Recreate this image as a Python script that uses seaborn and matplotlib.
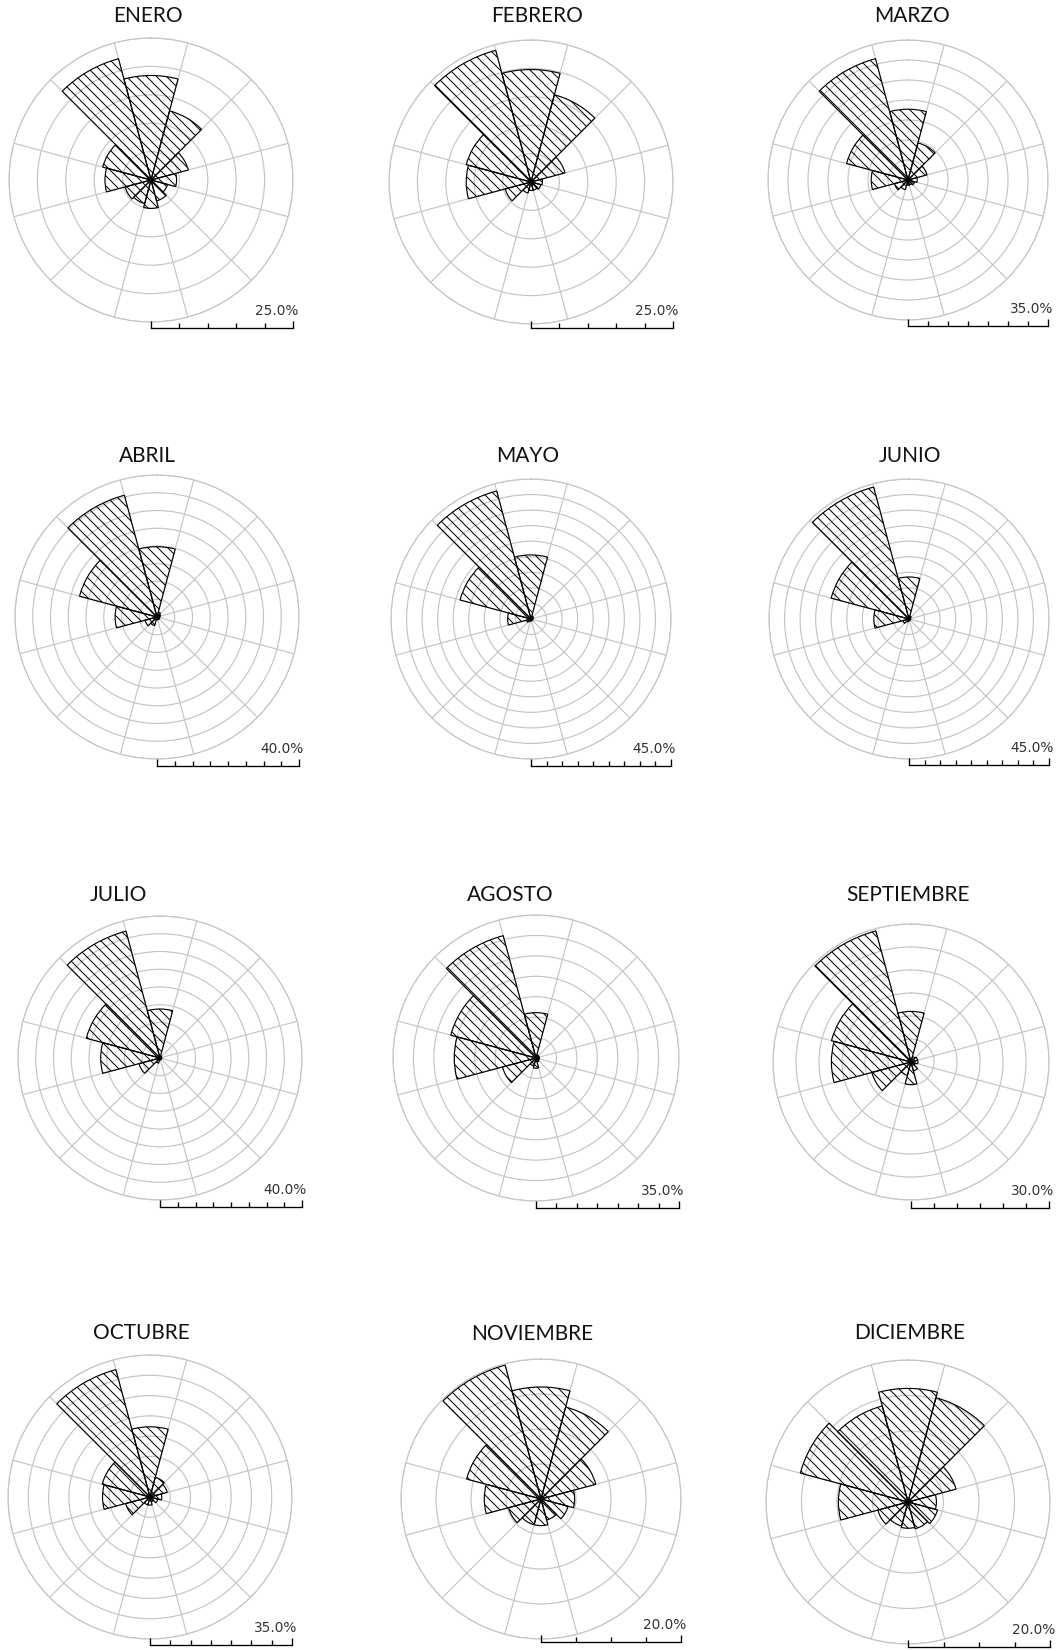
import numpy as np
import pandas as pd
import matplotlib
matplotlib.use("Agg")
import matplotlib.pyplot as plt
import seaborn as sns

# ---------------- data ----------------
months = ["ENERO", "FEBRERO", "MARZO", "ABRIL", "MAYO", "JUNIO",
          "JULIO", "AGOSTO", "SEPTIEMBRE", "OCTUBRE", "NOVIEMBRE", "DICIEMBRE"]
# sector centres in compass degrees (clockwise from north)
directions = [0, 30, 60, 90, 120, 150, 180, 210, 240, 270, 300, 330]

enero      = [18.4, 12.6, 6.8, 4.5, 3.0, 3.8, 5.0, 4.3, 4.7, 8.1, 8.8, 22.1]
febrero    = [19.8, 15.9, 6.2, 2.0, 1.8, 1.5, 1.5, 2.0, 4.7, 11.4, 11.8, 24.0]
marzo      = [17.7, 9.6, 4.9, 2.3, 1.7, 1.3, 1.3, 2.5, 3.5, 9.2, 15.9, 31.4]
abril      = [19.8, 1.4, 1.0, 0.8, 0.8, 0.8, 0.8, 2.5, 3.5, 11.8, 22.6, 35.5]
mayo       = [20.6, 1.0, 0.8, 0.6, 0.6, 0.6, 0.6, 0.8, 1.5, 7.5, 23.6, 42.6]
junio      = [13.5, 1.0, 0.6, 0.5, 0.5, 0.5, 0.6, 1.0, 2.0, 11.3, 25.9, 43.9]
julio      = [13.8, 0.6, 0.5, 0.5, 0.5, 0.5, 0.6, 1.5, 6.1, 16.7, 21.5, 37.0]
agosto     = [11.1, 0.8, 0.8, 0.8, 0.8, 1.0, 2.5, 2.0, 8.5, 20.0, 21.6, 31.0]
septiembre = [11.0, 1.2, 1.5, 1.5, 1.0, 2.0, 4.9, 3.0, 8.8, 17.3, 17.9, 29.5]
octubre    = [17.3, 5.0, 4.4, 2.9, 2.0, 1.2, 2.0, 2.0, 6.2, 11.7, 12.2, 32.5]
noviembre  = [16.0, 13.6, 8.1, 4.8, 4.0, 3.1, 3.8, 3.8, 4.8, 8.1, 11.0, 19.8]
diciembre  = [16.0, 15.2, 7.0, 4.0, 4.3, 3.9, 3.7, 3.5, 4.4, 9.8, 15.7, 14.0]

series = [enero, febrero, marzo, abril, mayo, junio,
          julio, agosto, septiembre, octubre, noviembre, diciembre]
scale_max = [25, 25, 35, 40, 45, 45, 40, 35, 30, 35, 20, 20]
ring_step = 5

# ---------------- layout (pixels) ----------------
W, H, DPI = 1062, 1651, 120
centers = [(151, 180), (531, 182), (908, 180),
           (157, 617), (531, 619), (909, 619),
           (160, 1058), (536, 1058), (911, 1062),
           (150, 1497), (541, 1499), (908, 1502)]
radii = [142, 142, 140, 142, 140, 140, 142, 143, 138, 142, 140, 142]
title_pos = [(148, 16), (537, 16), (912, 16),
             (147, 456), (528, 456), (910, 456),
             (118, 895), (510, 895), (908, 895),
             (141, 1333), (532, 1334), (910, 1333)]
bar_y = [328, 328, 326, 766, 766, 765, 1207, 1208, 1208, 1645, 1642, 1647]

GRID = "#c4c4c4"
HATCH = chr(92) * 4   # four back-slashes -> dense "\" diagonal hatch

sns.set_theme(style="white")
plt.rcParams["font.family"] = ["DejaVu Sans"]
plt.rcParams["hatch.linewidth"] = 0.6
plt.rcParams["hatch.color"] = "black"

fig = plt.figure(figsize=(W / DPI, H / DPI), dpi=DPI)
fig.patch.set_facecolor("white")

for i, (name, vals, vmax) in enumerate(zip(months, series, scale_max)):
    cx, cy = centers[i]
    R = radii[i]
    ax = fig.add_axes([(cx - R) / W, 1 - (cy + R) / H, 2 * R / W, 2 * R / H],
                      projection="polar")
    ax.set_theta_zero_location("N")
    ax.set_theta_direction(-1)
    ax.set_facecolor("none")

    df = pd.DataFrame({"theta": np.deg2rad(directions), "freq": vals})
    sns.barplot(data=df, x="theta", y="freq", native_scale=True, orient="x",
                width=1.0, fill=False, color="black", errorbar=None,
                facecolor="none", edgecolor="black", linewidth=0.7,
                hatch=HATCH, ax=ax)

    ax.set_xlim(0, 2 * np.pi)
    ax.set_ylim(0, vmax)
    ax.set_yticks(np.arange(ring_step, vmax + 0.1, ring_step))
    ax.set_xticks(np.deg2rad(np.arange(15, 360, 30)))
    ax.set_xticklabels([])
    ax.set_yticklabels([])
    ax.set_xlabel("")
    ax.set_ylabel("")
    ax.tick_params(length=0)
    ax.grid(True, color=GRID, linewidth=0.7)
    ax.set_axisbelow(True)
    ax.spines["polar"].set_color(GRID)
    ax.spines["polar"].set_linewidth(0.7)

    # title
    tx, ty = title_pos[i]
    fig.text(tx / W, 1 - ty / H, name, ha="center", va="center",
             fontsize=12.5, family=["Lato", "DejaVu Sans"], color="#111111")

    # scale bar
    by = bar_y[i]
    sax = fig.add_axes([cx / W, 1 - by / H, R / W, 10 / H])
    sax.set_facecolor("none")
    sax.set_xlim(0, vmax)
    sax.set_ylim(0, 1)
    sax.set_xticks([0, vmax])
    sax.set_xticks(np.arange(ring_step, vmax, ring_step), minor=True)
    sax.tick_params(axis="x", which="major", bottom=True, direction="in",
                    length=4.2, width=0.8, color="black", labelbottom=False)
    sax.tick_params(axis="x", which="minor", bottom=True, direction="in",
                    length=3.2, width=0.8, color="black", labelbottom=False)
    sax.set_yticks([])
    for s in ["top", "left", "right"]:
        sax.spines[s].set_visible(False)
    sax.spines["bottom"].set_color("black")
    sax.spines["bottom"].set_linewidth(0.8)
    fig.text((cx + R + 5) / W, 1 - (by - 17) / H, f"{vmax:.1f}%",
             ha="right", va="center", fontsize=8.2, color="#333333",
             family=["DejaVu Sans"])

fig.savefig("out.png", dpi=DPI, facecolor="white")
